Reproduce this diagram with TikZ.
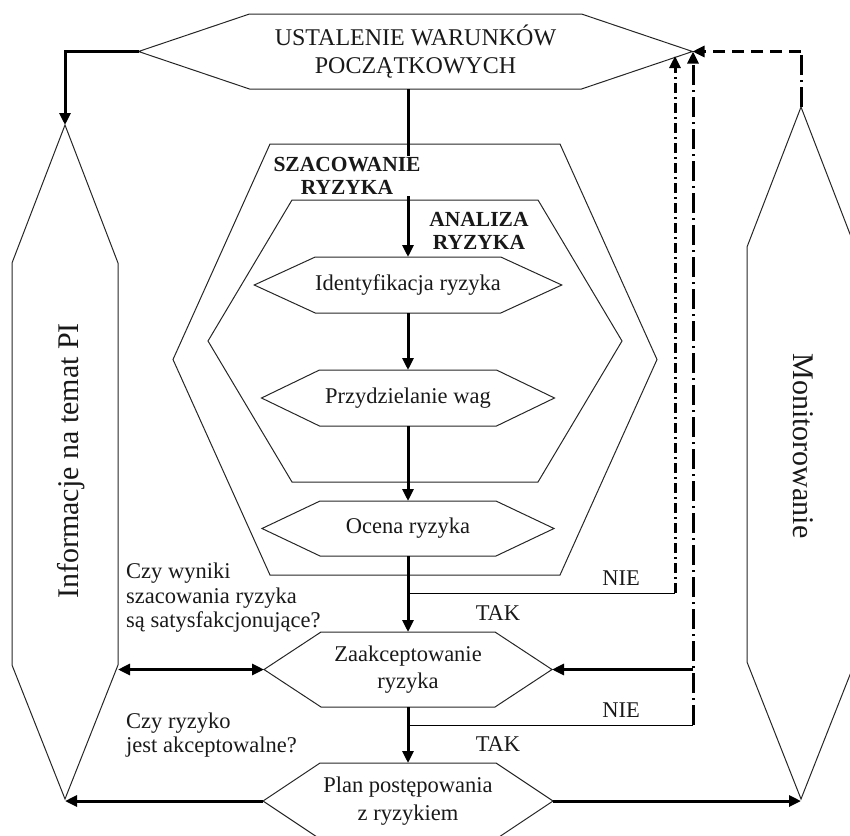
\documentclass[tikz,border=0pt]{standalone}
\usepackage{fontspec}
\setmainfont{Liberation Serif}
\usetikzlibrary{arrows.meta,calc}
\tikzset{
  box/.style={draw=none, inner sep=0pt, outer sep=0pt, align=center, font=\fontsize{22.5}{27.5}\selectfont, text=black!90},
  hexline/.style={draw=black!85, line width=1pt, line join=miter},
  tip/.style={-{Triangle[length=12pt,width=11pt]}},
  flow/.style={line width=3pt, tip},
  flowboth/.style={line width=3pt, {Triangle[length=12pt,width=11pt]}-{Triangle[length=12pt,width=11pt]}},
  thinline/.style={line width=1pt},
  dashdotA/.style={line width=3pt, dash pattern=on 10pt off 4pt on 2pt off 4pt},
  dashdotB/.style={line width=3pt, dash pattern=on 20pt off 5pt on 2pt off 5pt},
  dashedline/.style={line width=3pt, dash pattern=on 12pt off 7pt},
  lbl/.style={font=\fontsize{22.5}{24.5}\selectfont, inner sep=0pt, text=black!90},
  head/.style={font=\bfseries\fontsize{21.5}{23}\selectfont, align=center, inner sep=1pt, text=black!90},
  big/.style={font=\fontsize{30}{32}\selectfont, inner sep=0pt, text=black!90},
}
\newcommand\hexH[2]{\draw[hexline] (#1.north west) -- (#1.north east) -- ([xshift=#2]#1.east) -- (#1.south east) -- (#1.south west) -- ([xshift=-#2]#1.west) -- cycle;}
\newcommand\hexV[3]{\draw[hexline] (#1.north west) -- ([yshift=#2]#1.north) -- (#1.north east) -- (#1.south east) -- ([yshift=-#3]#1.south) -- (#1.south west) -- cycle;}
\begin{document}
\begin{tikzpicture}[x=1pt,y=-1pt]
\useasboundingbox (0,0) rectangle (850,835);
% big frames
\node[box, minimum width=290pt, minimum height=431pt] (szac) at (415,359.5) {};
\hexH{szac}{97pt}
\node[box, minimum width=246pt, minimum height=282pt] (anal) at (415,341) {};
\hexH{anal}{84pt}
\node[box, minimum width=106pt, minimum height=402pt] (info) at (65,464) {};
\hexV{info}{138pt}{134pt}
\node[box, minimum width=108pt, minimum height=415pt] (mon) at (801,454.5) {};
\begin{scope}
\clip (0,0) rectangle (850,835);
\hexV{mon}{140pt}{137pt}
\end{scope}
% process hexagons
\node[box, minimum width=332pt, minimum height=75pt, font=\fontsize{24}{28}\selectfont] (start) at (415.5,51.5) {USTALENIE WARUNKÓW\\POCZĄTKOWYCH};
\hexH{start}{111pt}
\node[box, minimum width=183pt, minimum height=56pt] (ident) at (408,285) {Identyfikacja ryzyka};
\hexH{ident}{61pt}
\node[box, minimum width=177pt, minimum height=56pt] (przyd) at (408,398) {Przydzielanie wag};
\hexH{przyd}{58pt}
\node[box, minimum width=176pt, minimum height=55pt] (ocena) at (408,528.5) {Ocena ryzyka};
\hexH{ocena}{58pt}
\node[box, minimum width=174pt, minimum height=75pt] (zaak) at (408,669.5) {Zaakceptowanie\\ryzyka};
\hexH{zaak}{57pt}
\begin{scope}
\clip (0,0) rectangle (850,835);
\node[box, minimum width=176pt, minimum height=76pt] (plan) at (408,801) {Plan postępowania\\z ryzykiem};
\hexH{plan}{57pt}
\end{scope}
% tips
\coordinate (startW) at ([xshift=-111pt]start.west);
\coordinate (startE) at ([xshift=111pt]start.east);
\coordinate (infoN) at ([yshift=138pt]info.north);
\coordinate (infoS) at ([yshift=-134pt]info.south);
\coordinate (monN) at ([yshift=140pt]mon.north);
\coordinate (monS) at ([yshift=-137pt]mon.south);
\coordinate (zaakW) at ([xshift=-57pt]zaak.west);
\coordinate (zaakE) at ([xshift=57pt]zaak.east);
\coordinate (planW) at ([xshift=-57pt]plan.west);
\coordinate (planE) at ([xshift=57pt]plan.east);
\coordinate (n1) at (408,593);
\coordinate (n1r) at (675,593);
\coordinate (t1) at (675,56);
\coordinate (n2) at (408,725);
\coordinate (n2r) at (693,725);
% main flow
\draw[flow] (start.south -| ident.north) -- (ident.north);
\draw[flow] (ident.south) -- (przyd.north);
\draw[flow] (przyd.south) -- (ocena.north);
\draw[flow] (ocena.south) -- (zaak.north);
\draw[flow] (zaak.south) -- (plan.north);
\draw[flow] (startW) -| (infoN);
\draw[flowboth] (info.east |- zaakW) -- (zaakW);
\draw[flow] (planW) -- (planW -| infoS);
\draw[flow] (planE) -- (planE -| monS);
% feedback
\draw[thinline] (n1) -- (n1r);
\draw[dashdotA, tip] (n1r) -- (t1);
\draw[thinline] (n2) -- (n2r);
\draw[dashdotB, tip] (n2r) -- (n2r |- startE);
\draw[flow] (zaakE -| n2r) -- (zaakE);
\draw[dashdotB] (monN) -- (monN |- startE);
\draw[dashedline, tip] (monN |- startE) -- (startE);
% labels
\node[head, fill=white] (szaclbl) at (347,176) {SZACOWANIE\\RYZYKA};
\node[head] (anallbl) at (479,231) {ANALIZA\\RYZYKA};
\node[lbl] (nie1) at (621,578) {NIE};
\node[lbl] (tak1) at (498,613) {TAK};
\node[lbl] (nie2) at (621,710) {NIE};
\node[lbl] (tak2) at (498,744) {TAK};
\node[lbl, anchor=north west, align=left] (q1) at (126,563) {Czy wyniki\\szacowania ryzyka\\są satysfakcjonujące?};
\node[lbl, anchor=north west, align=left] (q2) at (126,712.5) {Czy ryzyko\\jest akceptowalne?};
\node[big, rotate=90, anchor=base] (infotxt) at (78,461) {Informacje na temat PI};
\node[big, rotate=-90, anchor=base] (montxt) at (793,446) {Monitorowanie};
\end{tikzpicture}
\end{document}
